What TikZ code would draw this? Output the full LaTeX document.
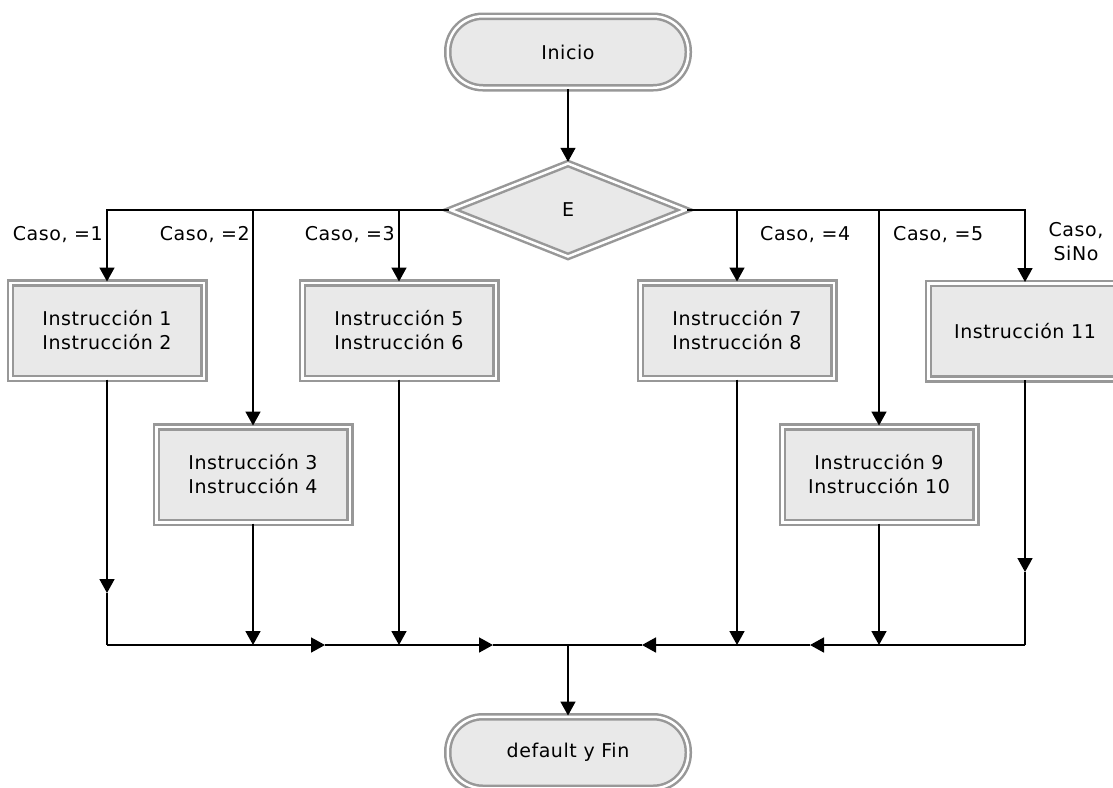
\documentclass[tikz,border=0pt]{standalone}
\usepackage{fontspec}
\setmainfont{DejaVu Sans}[LetterSpace=3]
\usetikzlibrary{shapes.geometric,arrows.meta}
\definecolor{bordergray}{RGB}{152,152,152}
\definecolor{boxfill}{RGB}{233,233,233}
\begin{document}
\begin{tikzpicture}[x=1pt,y=-1pt,
  font=\fontsize{19}{24}\selectfont,
  dbl/.style={draw=bordergray, line width=2.5pt, double=white, double distance=2.5pt, fill=boxfill},
  procbox/.style={dbl, rectangle, minimum width=193.5pt, minimum height=95.5pt, inner sep=0pt, align=center},
  termbox/.style={dbl, rectangle, rounded corners=35pt, minimum width=240.5pt, minimum height=71.5pt, inner sep=0pt},
  decbox/.style={dbl, diamond, minimum width=236pt, minimum height=94pt, inner sep=0pt, aspect=2.5},
  conn/.style={line width=1.7pt, black},
  arr/.style={conn, -{Triangle[width=15pt,length=14pt]}},
  lbl/.style={inner sep=0pt, align=center}
]
\clip (0,0) rectangle (1113,787);
\fill[white] (0,0) rectangle (1113,787);

% nodes
\node[termbox] (ini) at (568,52) {Inicio};
\node[decbox] (E) at (568,210) {E};
\node[procbox] (b1) at (107,330.5) {Instrucción 1\\Instrucción 2};
\node[procbox] (b2) at (253,474.5) {Instrucción 3\\Instrucción 4};
\node[procbox] (b3) at (399,330.5) {Instrucción 5\\Instrucción 6};
\node[procbox] (b4) at (737,330.5) {Instrucción 7\\Instrucción 8};
\node[procbox] (b5) at (879,474.5) {Instrucción 9\\Instrucción 10};
\node[procbox] (b6) at (1025,331) {Instrucción 11};
\node[termbox] (fin) at (568,752.5) {default y Fin};

% labels
\node[lbl, anchor=east] (l1) at (103,235) {Caso, =1};
\node[lbl, anchor=east] (l2) at (250,235) {Caso, =2};
\node[lbl, anchor=east] (l3) at (395,235) {Caso, =3};
\node[lbl, anchor=west] (l4) at (760,235) {Caso, =4};
\node[lbl, anchor=west] (l5) at (893,235) {Caso, =5};
\node[lbl, anchor=north] (l6) at (1076,222) {Caso,\\SiNo};

% coordinates for the collecting line
\coordinate (m1) at (107,593);
\coordinate (m6) at (1025,572);
\coordinate (j1) at (107,645);
\coordinate (j2) at (253,645);
\coordinate (j3) at (399,645);
\coordinate (j4) at (737,645);
\coordinate (j5) at (879,645);
\coordinate (j6) at (1025,645);
\coordinate (a1) at (325,645);
\coordinate (a2) at (493,645);
\coordinate (a3) at (642,645);
\coordinate (a4) at (810,645);
\coordinate (jc) at (568,645);

% connectors
\draw[arr] (ini) -- (E);
\draw[arr] (E.west) -| (b1.north);
\draw[arr] (E.west) -| (b2.north);
\draw[arr] (E.west) -| (b3.north);
\draw[arr] (E.east) -| (b4.north);
\draw[arr] (E.east) -| (b5.north);
\draw[arr] (E.east) -| (b6.north);

\draw[arr] (b1.south) -- (m1);
\draw[conn] (m1) -- (j1);
\draw[arr] (b2.south) -- (j2);
\draw[arr] (b3.south) -- (j3);
\draw[arr] (b4.south) -- (j4);
\draw[arr] (b5.south) -- (j5);
\draw[arr] (b6.south) -- (m6);
\draw[conn] (m6) -- (j6);

\draw[arr] (j1) -- (a1);
\draw[arr] (a1) -- (a2);
\draw[conn] (a2) -- (jc);
\draw[arr] (j6) -- (a4);
\draw[arr] (a4) -- (a3);
\draw[conn] (a3) -- (jc);
\draw[arr] (jc) -- (fin);
\end{tikzpicture}
\end{document}
